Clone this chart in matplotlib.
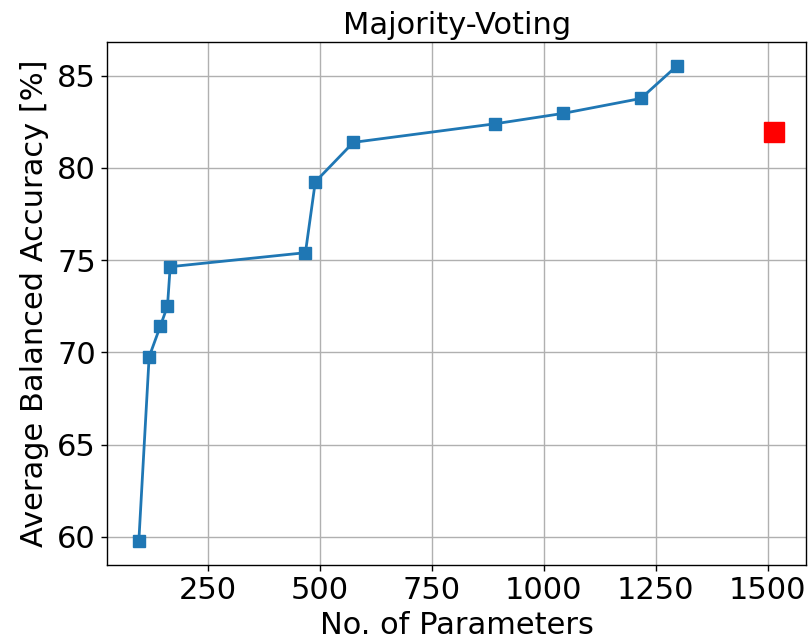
import matplotlib
matplotlib.use("Agg")
import matplotlib.pyplot as plt

n_params = [96, 119, 144, 160, 166, 468, 490, 575, 892, 1043, 1217, 1298]
accuracy = [59.76, 69.75, 71.42, 72.51, 74.64, 75.40, 79.24, 81.38, 82.39, 82.95, 83.76, 85.54]
ref_params = [1515]
ref_accuracy = [81.95]

plt.rcParams['font.size'] = 22

fig = plt.figure(figsize=(8.11, 6.44), dpi=100)
ax = fig.add_axes([0.132, 0.1227, 0.862, 0.8123])

ax.plot(n_params, accuracy, marker='s', color='#1f77b4', linewidth=2.0, markersize=8.3)
ax.plot(ref_params, ref_accuracy, marker='s', color='red', linestyle='none', markersize=15)

ax.set_xticks([250, 500, 750, 1000, 1250, 1500])
ax.set_yticks([60, 65, 70, 75, 80, 85])
ax.grid(True, linewidth=1.0, color='#b0b0b0')
ax.tick_params(length=4.5, width=1.0)
for s in ax.spines.values():
    s.set_linewidth(1.0)

ax.set_title('Majority-Voting', fontsize=22)
ax.set_xlabel('No. of Parameters', labelpad=4)
ax.set_ylabel('Average Balanced Accuracy [%]', labelpad=6)

fig.savefig('out.png', dpi=100)
